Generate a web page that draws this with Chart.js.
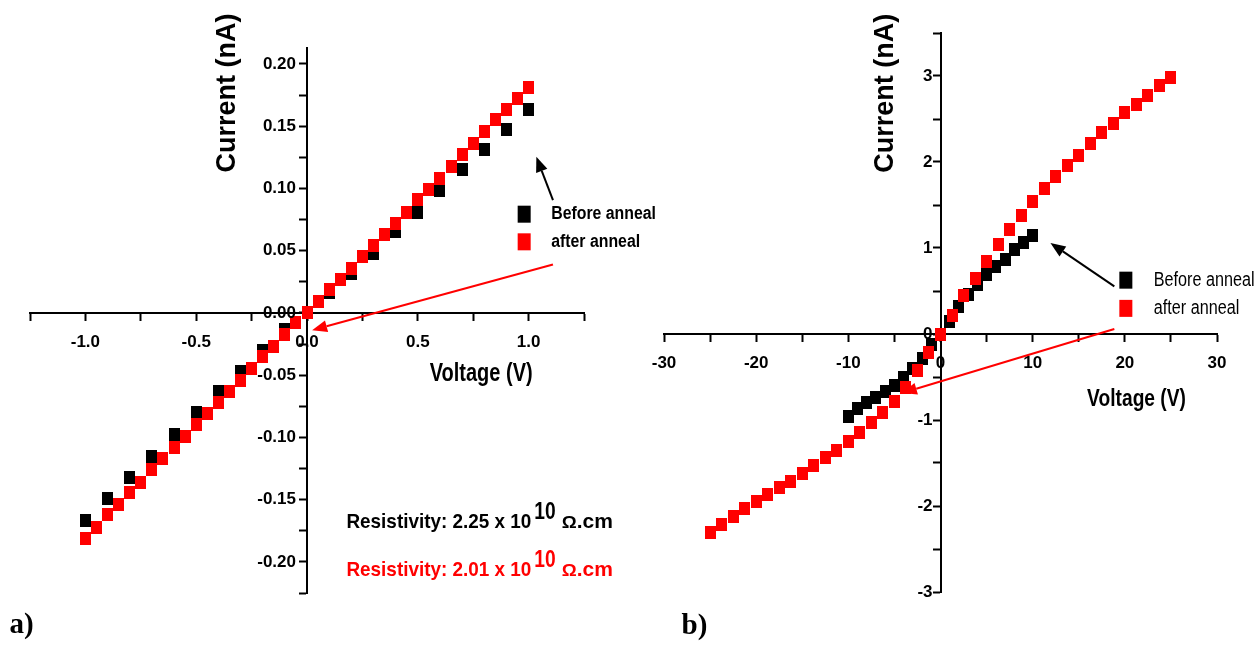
<!DOCTYPE html>
<html>
<head>
<meta charset="utf-8">
<script src="https://cdn.jsdelivr.net/npm/chart.js@4.4.1/dist/chart.umd.min.js"></script>
<style>
  html, body { margin: 0; padding: 0; background: #fff; }
  #wrap { position: relative; width: 1257px; height: 645px; }
  canvas { position: absolute; top: 0; }
  #chartA { left: 0; }
  #chartB { left: 628px; }
</style>
</head>
<body>
<div id="wrap">
  <canvas id="chartA" width="700" height="645"></canvas>
  <canvas id="chartB" width="629" height="645"></canvas>
</div>
<script>
// ---- panel a) : -1 V .. 1 V sweep ----
const voltsBeforeA = [-1.0, -0.9, -0.8, -0.7, -0.6, -0.5, -0.4, -0.3, -0.2, -0.1, 0.0,
    0.1, 0.2, 0.3, 0.4, 0.5, 0.6, 0.7, 0.8, 0.9, 1.0];
const currentBeforeA = [-0.167, -0.149, -0.132, -0.115, -0.098, -0.080, -0.063, -0.047, -0.030, -0.013, 0.000,
    0.016, 0.032, 0.048, 0.065, 0.081, 0.098, 0.115, 0.131, 0.147, 0.163];

const voltsAfterA = [-1.0, -0.95, -0.9, -0.85, -0.8, -0.75, -0.7, -0.65, -0.6, -0.55, -0.5,
    -0.45, -0.4, -0.35, -0.3, -0.25, -0.2, -0.15, -0.1, -0.05, 0.0,
    0.05, 0.1, 0.15, 0.2, 0.25, 0.3, 0.35, 0.4, 0.45, 0.5,
    0.55, 0.6, 0.65, 0.7, 0.75, 0.8, 0.85, 0.9, 0.95, 1.0];
const currentAfterA = [-0.181, -0.172, -0.162, -0.154, -0.144, -0.136, -0.126, -0.117, -0.108, -0.099, -0.090,
    -0.081, -0.072, -0.063, -0.054, -0.045, -0.035, -0.027, -0.017, -0.008, 0.000,
    0.009, 0.019, 0.027, 0.036, 0.045, 0.054, 0.063, 0.072, 0.081, 0.091,
    0.099, 0.108, 0.118, 0.127, 0.136, 0.146, 0.155, 0.163, 0.172, 0.181];

const xTicksA = [-1.25, -1.0, -0.75, -0.5, -0.25, 0, 0.25, 0.5, 0.75, 1.0, 1.25];
const xLabelsA = ['', '-1.0', '', '-0.5', '', '0.0', '', '0.5', '', '1.0', ''];
const yTicksA = [-0.225, -0.2, -0.175, -0.15, -0.125, -0.1, -0.075, -0.05, -0.025, 0,
    0.025, 0.05, 0.075, 0.1, 0.125, 0.15, 0.175, 0.2];
const yLabelsA = ['', '-0.20', '', '-0.15', '', '-0.10', '', '-0.05', '', '0.00',
    '', '0.05', '', '0.10', '', '0.15', '', '0.20'];

// ---- panel b) : -25 V .. 25 V sweep ----
const voltsBeforeB = [-10, -9, -8, -7, -6, -5, -4, -3, -2, -1, 0, 1, 2, 3, 4, 5, 6, 7, 8, 9, 10];
const currentBeforeB = [-0.96, -0.87, -0.80, -0.74, -0.67, -0.60, -0.51, -0.40, -0.29, -0.12, 0.00,
    0.15, 0.32, 0.46, 0.57, 0.69, 0.79, 0.87, 0.98, 1.06, 1.14];

const voltsAfterB = [-25, -23.75, -22.5, -21.25, -20, -18.75, -17.5, -16.25, -15, -13.75, -12.5,
    -11.25, -10, -8.75, -7.5, -6.25, -5, -3.75, -2.5, -1.25, 0,
    1.25, 2.5, 3.75, 5, 6.25, 7.5, 8.75, 10, 11.25, 12.5,
    13.75, 15, 16.25, 17.5, 18.75, 20, 21.25, 22.5, 23.75, 25];
const currentAfterB = [-2.31, -2.21, -2.12, -2.03, -1.95, -1.87, -1.79, -1.71, -1.62, -1.53, -1.44,
    -1.35, -1.25, -1.14, -1.03, -0.91, -0.78, -0.62, -0.42, -0.22, 0.00,
    0.22, 0.45, 0.65, 0.84, 1.04, 1.21, 1.38, 1.54, 1.69, 1.83,
    1.96, 2.08, 2.22, 2.34, 2.45, 2.57, 2.67, 2.77, 2.89, 2.98];

const xTicksB = [-30, -25, -20, -15, -10, -5, 0, 5, 10, 15, 20, 25, 30];
const xLabelsB = ['-30', '', '-20', '', '-10', '', '0', '', '10', '', '20', '', '30'];
const yTicksB = [-3, -2.5, -2, -1.5, -1, -0.5, 0, 0.5, 1, 1.5, 2, 2.5, 3, 3.5];
const yLabelsB = ['-3', '', '-2', '', '-1', '', '0', '', '1', '', '2', '', '3', ''];

const RED = '#ff0000';
const BLACK = '#000000';
const SANS = '"Liberation Sans", Arial, sans-serif';
const SERIF = '"Liberation Serif", "Times New Roman", serif';
const TICK_FONT = 'bold 17px ' + SANS;

function makeMarker(color, w, h) {
    const c = document.createElement('canvas');
    c.width = w;
    c.height = h;
    const g = c.getContext('2d');
    g.fillStyle = color;
    g.fillRect(0, 0, w, h);
    return c;
}

const redMarker = makeMarker(RED, 11, 13);
const blackMarker = makeMarker(BLACK, 11, 13);

function zip(xs, ys) {
    return xs.map((x, i) => ({ x, y: ys[i] }));
}

function xAxis(ticks, labels, min, max) {
    return {
        type: 'linear',
        min,
        max,
        position: { y: 0 },
        afterBuildTicks: s => { s.ticks = ticks.map(v => ({ value: v })); },
        afterFit: s => { s.height = 0; },
        ticks: {
            callback: (v, i) => labels[i],
            font: { family: SANS, size: 17, weight: 'bold' },
            color: BLACK,
            padding: 12,
            maxRotation: 0,
            autoSkip: false,
        },
        grid: { drawOnChartArea: false, tickLength: 7, tickWidth: 2, tickColor: BLACK },
        border: { color: BLACK, width: 2 },
    };
}

// y labels are drawn by the annotate plugins (chart.js puts them on the axis line
// when the axis is positioned at x = 0)
function yAxis(ticks, min, max) {
    return {
        type: 'linear',
        min,
        max,
        position: { x: 0 },
        afterBuildTicks: s => { s.ticks = ticks.map(v => ({ value: v })); },
        afterFit: s => { s.width = 0; },
        ticks: { display: false },
        grid: { drawOnChartArea: false, tickLength: 7, tickWidth: 2, tickColor: BLACK },
        border: { color: BLACK, width: 2 },
    };
}

function drawText(ctx, text, x, y, font, color, sx = 1, align = 'left', baseline = 'alphabetic') {
    ctx.save();
    ctx.translate(x, y);
    ctx.scale(sx, 1);
    ctx.font = font;
    ctx.fillStyle = color;
    ctx.textAlign = align;
    ctx.textBaseline = baseline;
    ctx.fillText(text, 0, 0);
    const w = ctx.measureText(text).width * sx;
    ctx.restore();
    return w;
}

function drawYLabels(chart, labels, gap) {
    const { ctx, scales: { x, y } } = chart;
    const ax = x.getPixelForValue(0) - gap;
    y.ticks.forEach((t, i) => {
        if (labels[i]) drawText(ctx, labels[i], ax, y.getPixelForValue(t.value), TICK_FONT, BLACK, 1, 'right', 'middle');
    });
}

function drawArrow(ctx, x1, y1, x2, y2, color, lw, headLen, headHalf) {
    const ang = Math.atan2(y2 - y1, x2 - x1);
    const bx = x2 - headLen * Math.cos(ang);
    const by = y2 - headLen * Math.sin(ang);
    ctx.save();
    ctx.strokeStyle = color;
    ctx.fillStyle = color;
    ctx.lineWidth = lw;
    ctx.beginPath();
    ctx.moveTo(x1, y1);
    ctx.lineTo(bx, by);
    ctx.stroke();
    ctx.beginPath();
    ctx.moveTo(x2, y2);
    ctx.lineTo(bx + headHalf * Math.sin(ang), by - headHalf * Math.cos(ang));
    ctx.lineTo(bx - headHalf * Math.sin(ang), by + headHalf * Math.cos(ang));
    ctx.closePath();
    ctx.fill();
    ctx.restore();
}

function drawRotatedTitle(ctx, text, x, y) {
    ctx.save();
    ctx.translate(x, y);
    ctx.rotate(-Math.PI / 2);
    ctx.font = 'bold 27px ' + SANS;
    ctx.fillStyle = BLACK;
    ctx.textAlign = 'center';
    ctx.textBaseline = 'middle';
    ctx.fillText(text, 0, 0);
    ctx.restore();
}

function drawLegend(ctx, mx, yBefore, yAfter, tx, font, sx) {
    ctx.fillStyle = BLACK;
    ctx.fillRect(mx - 6.5, yBefore - 8.5, 13, 17);
    ctx.fillStyle = RED;
    ctx.fillRect(mx - 6.5, yAfter - 8.5, 13, 17);
    drawText(ctx, 'Before anneal', tx, yBefore, font, BLACK, sx, 'left', 'middle');
    drawText(ctx, 'after anneal', tx, yAfter, font, BLACK, sx, 'left', 'middle');
}

function drawResistivity(ctx, x, y, value, color) {
    let cx = x;
    cx += drawText(ctx, 'Resistivity: ' + value + ' x 10', cx, y, 'bold 21px ' + SANS, color, 0.9);
    cx += 3;
    cx += drawText(ctx, '10', cx, y - 9, 'bold 24px ' + SANS, color, 0.8);
    cx += 6;
    cx += drawText(ctx, 'Ω', cx, y, 'bold 17px ' + SANS, color, 1.1);
    drawText(ctx, '.cm', cx, y, 'bold 21px ' + SANS, color, 1.0);
}

const annotateA = {
    id: 'annotateA',
    afterDraw(chart) {
        const { ctx, scales: { x, y } } = chart;
        const px = v => x.getPixelForValue(v);
        const py = v => y.getPixelForValue(v);
        drawYLabels(chart, yLabelsA, 11);
        drawRotatedTitle(ctx, 'Current (nA)', px(-0.357), py(0.1766));
        drawText(ctx, 'Voltage (V)', px(0.786), py(-0.0488), 'bold 25px ' + SANS, BLACK, 0.8, 'center', 'middle');
        drawLegend(ctx, px(0.98), py(0.0793), py(0.0571), px(1.102), 'bold 18px ' + SANS, 0.88);
        drawArrow(ctx, px(1.11), py(0.0906), px(1.035), py(0.1254), BLACK, 2, 15, 6);
        drawArrow(ctx, px(1.11), py(0.0389), px(0.023), py(-0.0139), RED, 2, 15, 6);
        drawResistivity(ctx, px(0.178), py(-0.1725), '2.25', BLACK);
        drawResistivity(ctx, px(0.178), py(-0.211), '2.01', RED);
        drawText(ctx, 'a)', px(-1.343), py(-0.2575), 'bold 29px ' + SERIF, BLACK);
    },
};

const annotateB = {
    id: 'annotateB',
    afterDraw(chart) {
        const { ctx, scales: { x, y } } = chart;
        const px = v => x.getPixelForValue(v);
        const py = v => y.getPixelForValue(v);
        drawYLabels(chart, yLabelsB, 8);
        drawRotatedTitle(ctx, 'Current (nA)', px(-6.0), py(2.80));
        drawText(ctx, 'Voltage (V)', px(21.27), py(-0.76), 'bold 24px ' + SANS, BLACK, 0.8, 'center', 'middle');
        drawLegend(ctx, px(20.11), py(0.626), py(0.298), px(23.14), '20px ' + SANS, 0.81);
        drawArrow(ctx, px(18.86), py(0.553), px(11.93), py(1.058), BLACK, 2, 15, 6);
        drawArrow(ctx, px(18.86), py(0.058), px(-4.19), py(-0.686), RED, 2, 15, 6);
        drawText(ctx, 'b)', px(-28.1), py(-3.483), 'bold 29px ' + SERIF, BLACK);
    },
};

function baseOptions(padding, xScale, yScale) {
    return {
        responsive: false,
        animation: false,
        layout: { padding },
        plugins: { legend: { display: false }, tooltip: { enabled: false } },
        scales: { x: xScale, y: yScale },
    };
}

new Chart(document.getElementById('chartA'), {
    type: 'scatter',
    data: {
        datasets: [
            { label: 'after anneal', data: zip(voltsAfterA, currentAfterA), pointStyle: redMarker, pointRadius: 6, order: 0 },
            { label: 'Before anneal', data: zip(voltsBeforeA, currentBeforeA), pointStyle: blackMarker, pointRadius: 6, order: 1 },
        ],
    },
    options: baseOptions(
        { left: 30, right: 116, top: 48, bottom: 52 },
        xAxis(xTicksA, xLabelsA, -1.25, 1.25),
        yAxis(yTicksA, -0.225, 0.2128),
    ),
    plugins: [annotateA],
});

new Chart(document.getElementById('chartB'), {
    type: 'scatter',
    data: {
        datasets: [
            { label: 'after anneal', data: zip(voltsAfterB, currentAfterB), pointStyle: redMarker, pointRadius: 6, order: 0 },
            { label: 'Before anneal', data: zip(voltsBeforeB, currentBeforeB), pointStyle: blackMarker, pointRadius: 6, order: 1 },
        ],
    },
    options: baseOptions(
        { left: 36, right: 40, top: 33, bottom: 53 },
        xAxis(xTicksB, xLabelsB, -30, 30),
        yAxis(yTicksB, -3, 3.5),
    ),
    plugins: [annotateB],
});
</script>
</body>
</html>
